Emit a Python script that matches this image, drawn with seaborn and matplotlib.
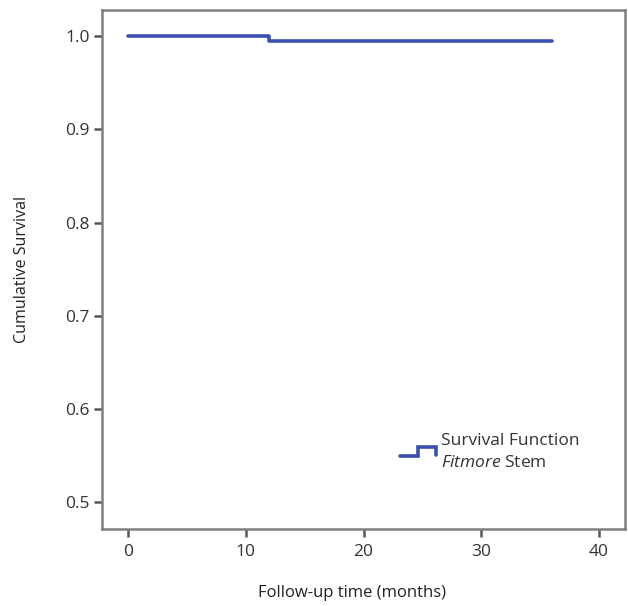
import matplotlib
matplotlib.use("Agg")
import matplotlib.pyplot as plt
import seaborn as sns
import pandas as pd

# Data
time_months = [0, 12, 36]
survival = [1.0, 0.9946, 0.9946]
x_ticks = [0, 10, 20, 30, 40]
y_ticks = [0.5, 0.6, 0.7, 0.8, 0.9, 1.0]
y_tick_labels = ["0.5", "0.6", "0.7", "0.8", "0.9", "1.0"]

sns.set_theme(style="white")
plt.rcParams['font.family'] = ['Open Sans', 'DejaVu Sans']
plt.rcParams['mathtext.fontset'] = 'custom'
plt.rcParams['mathtext.it'] = 'Open Sans:italic'
plt.rcParams['mathtext.rm'] = 'Open Sans'

line_color = "#3a4fae"
frame_color = "#7f7f7f"
text_color = "#333333"

fig = plt.figure(figsize=(6.28, 6.06), dpi=100)
ax = fig.add_axes([102/628, 77/606, 523/628, 519/606])

df = pd.DataFrame({"time": time_months, "surv": survival})
sns.lineplot(data=df, x="time", y="surv", ax=ax, drawstyle="steps-post",
             color=line_color, linewidth=2.6, legend=False)

ax.set_xlim(-2.2, 42.2)
ax.set_ylim(0.4715, 1.028)
ax.set_xticks(x_ticks)
ax.set_xticklabels([str(t) for t in x_ticks])
ax.set_yticks(y_ticks)
ax.set_yticklabels(y_tick_labels)

for s in ax.spines.values():
    s.set_color(frame_color)
    s.set_linewidth(1.8)
    s.set_visible(True)

ax.tick_params(axis="both", which="major", direction="out", length=6, width=1.8,
               color="#555555", labelsize=12.5, labelcolor=text_color, pad=3,
               bottom=True, left=True)
ax.tick_params(axis="x", pad=5)

ax.set_xlabel("Follow-up time (months)", fontsize=12, color="#222222")
ax.set_ylabel("Cumulative Survival", fontsize=11.5, color="#222222")
ax.xaxis.set_label_coords((352-102)/523, -(593-529)/519, transform=ax.transAxes)
ax.yaxis.set_label_coords(-(102-22)/523, 0.5, transform=ax.transAxes)
ax.xaxis.label.set_va("center")
ax.yaxis.label.set_va("center")

# Legend (manual, step-shaped icon)
lx = [(400-102)/523, (418-102)/523, (418-102)/523, (436-102)/523, (436-102)/523]
ly = [(529-456)/519, (529-456)/519, (529-447)/519, (529-447)/519, (529-455)/519]
ax.plot(lx, ly, transform=ax.transAxes, color=line_color, linewidth=2.6, clip_on=False,
        solid_joinstyle="miter")
ax.text((441-102)/523, (529-441)/519, "Survival Function", transform=ax.transAxes,
        fontsize=12.5, color="#333333", va="center", ha="left")
ax.text((441-102)/523, (529-463)/519, "$\\it{Fitmore}$ Stem", transform=ax.transAxes,
        fontsize=12.5, color="#333333", va="center", ha="left")

fig.savefig("out.png", dpi=100)
